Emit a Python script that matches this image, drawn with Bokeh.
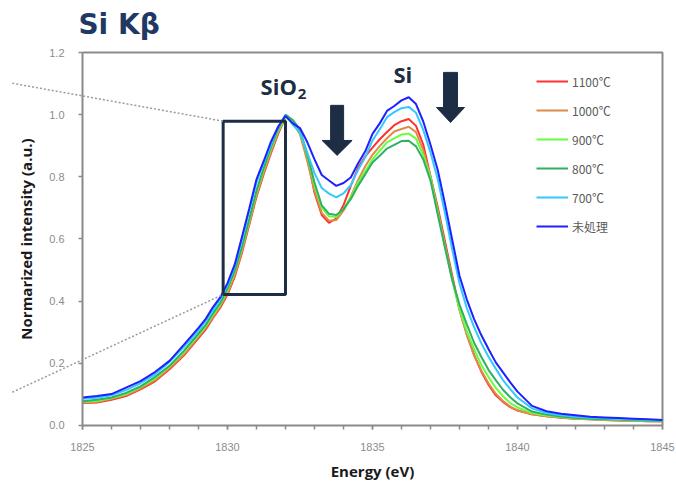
import math

from bokeh.plotting import figure
from bokeh.models import (Range1d, FixedTicker, Legend, LegendItem, Label,
                          Arrow, BoxAnnotation, PrintfTickFormatter)
from bokeh.embed import file_html
from bokeh.resources import INLINE

# Si K-beta emission spectra, normalised to the SiO2 peak
energy = [1825.0, 1825.5, 1826.0, 1826.5, 1827.0, 1827.5, 1828.0, 1828.5,
          1829.0, 1829.25, 1829.5, 1829.75, 1830.0, 1830.25, 1830.5, 1830.75,
          1831.0, 1831.25, 1831.5, 1831.75, 1832.0, 1832.25, 1832.5, 1832.75,
          1833.0, 1833.25, 1833.5, 1833.75, 1834.0, 1834.25, 1834.5, 1834.75,
          1835.0, 1835.25, 1835.5, 1835.75, 1836.0, 1836.25, 1836.5, 1836.75,
          1837.0, 1837.25, 1837.5, 1837.75, 1838.0, 1838.25, 1838.5, 1838.75,
          1839.0, 1839.25, 1839.5, 1839.75, 1840.0, 1840.5, 1841.0, 1841.5,
          1842.0, 1842.5, 1843.0, 1843.5, 1844.0, 1844.5, 1845.0]

int_1100 = [0.072, 0.074, 0.083, 0.095, 0.116, 0.142, 0.181, 0.226,
            0.281, 0.309, 0.346, 0.379, 0.421, 0.479, 0.556, 0.646,
            0.736, 0.809, 0.876, 0.939, 0.992, 0.981, 0.951, 0.861,
            0.749, 0.677, 0.652, 0.666, 0.709, 0.771, 0.829, 0.866,
            0.894, 0.921, 0.944, 0.966, 0.979, 0.986, 0.964, 0.904,
            0.802, 0.702, 0.592, 0.482, 0.374, 0.296, 0.228, 0.174,
            0.131, 0.097, 0.076, 0.059, 0.048, 0.036, 0.030, 0.025,
            0.022, 0.020, 0.018, 0.016, 0.015, 0.014, 0.014]

int_1000 = [0.074, 0.076, 0.086, 0.098, 0.119, 0.146, 0.185, 0.229,
            0.286, 0.314, 0.349, 0.384, 0.426, 0.484, 0.561, 0.651,
            0.741, 0.814, 0.881, 0.944, 0.991, 0.976, 0.936, 0.851,
            0.756, 0.684, 0.659, 0.661, 0.691, 0.736, 0.789, 0.834,
            0.871, 0.899, 0.924, 0.946, 0.954, 0.961, 0.944, 0.886,
            0.801, 0.691, 0.581, 0.474, 0.371, 0.291, 0.226, 0.177,
            0.136, 0.102, 0.079, 0.061, 0.049, 0.036, 0.030, 0.026,
            0.022, 0.020, 0.018, 0.016, 0.015, 0.014, 0.013]

int_900 = [0.076, 0.079, 0.088, 0.101, 0.124, 0.151, 0.190, 0.236,
           0.291, 0.319, 0.356, 0.389, 0.436, 0.494, 0.571, 0.659,
           0.751, 0.824, 0.891, 0.949, 0.993, 0.979, 0.946, 0.869,
           0.772, 0.701, 0.673, 0.671, 0.697, 0.733, 0.781, 0.818,
           0.856, 0.884, 0.911, 0.924, 0.936, 0.939, 0.923, 0.869,
           0.798, 0.686, 0.574, 0.466, 0.376, 0.304, 0.246, 0.195,
           0.156, 0.121, 0.094, 0.072, 0.058, 0.040, 0.032, 0.027,
           0.023, 0.021, 0.019, 0.018, 0.016, 0.015, 0.014]

int_800 = [0.078, 0.083, 0.090, 0.105, 0.126, 0.156, 0.192, 0.241,
           0.296, 0.324, 0.361, 0.394, 0.441, 0.498, 0.576, 0.664,
           0.756, 0.829, 0.896, 0.954, 1.000, 0.983, 0.951, 0.873,
           0.782, 0.708, 0.681, 0.677, 0.696, 0.728, 0.771, 0.808,
           0.846, 0.868, 0.891, 0.903, 0.915, 0.916, 0.898, 0.856,
           0.788, 0.679, 0.572, 0.468, 0.389, 0.326, 0.267, 0.221,
           0.179, 0.146, 0.115, 0.091, 0.071, 0.045, 0.035, 0.029,
           0.025, 0.022, 0.020, 0.019, 0.017, 0.016, 0.015]

int_700 = [0.086, 0.089, 0.097, 0.114, 0.136, 0.164, 0.204, 0.253,
           0.306, 0.336, 0.371, 0.406, 0.451, 0.513, 0.596, 0.690,
           0.781, 0.846, 0.904, 0.961, 0.998, 0.968, 0.942, 0.878,
           0.812, 0.764, 0.746, 0.734, 0.747, 0.773, 0.822, 0.863,
           0.917, 0.953, 0.992, 1.008, 1.021, 1.025, 1.006, 0.951,
           0.878, 0.792, 0.683, 0.566, 0.457, 0.378, 0.317, 0.265,
           0.221, 0.183, 0.146, 0.117, 0.090, 0.055, 0.040, 0.033,
           0.028, 0.025, 0.023, 0.021, 0.019, 0.018, 0.017]

int_untreated = [0.090, 0.095, 0.101, 0.122, 0.143, 0.172, 0.208, 0.260,
                 0.314, 0.343, 0.381, 0.412, 0.458, 0.518, 0.607, 0.698,
                 0.792, 0.851, 0.913, 0.962, 0.996, 0.972, 0.957, 0.912,
                 0.856, 0.806, 0.788, 0.771, 0.780, 0.798, 0.843, 0.882,
                 0.938, 0.972, 1.012, 1.028, 1.046, 1.056, 1.034, 0.978,
                 0.903, 0.822, 0.713, 0.597, 0.482, 0.406, 0.343, 0.291,
                 0.246, 0.203, 0.171, 0.139, 0.109, 0.063, 0.046, 0.038,
                 0.033, 0.028, 0.026, 0.024, 0.022, 0.020, 0.018]

series_labels = ["1100℃", "1000℃", "900℃", "800℃", "700℃", "未処理"]
series_values = [int_1100, int_1000, int_900, int_800, int_700, int_untreated]
series_colors = ["#ff3030", "#e08a48", "#66ff40", "#30b060", "#33c8ff", "#2020ff"]

x_ticks = [1825, 1830, 1835, 1840, 1845]
y_ticks = [0.0, 0.2, 0.4, 0.6, 0.8, 1.0, 1.2]

X_MIN, X_MAX = 1825, 1845
Y_MIN, Y_MAX = 0.0, 1.2

NAVY = "#1c2d44"
AXIS_GREY = "#8a8a8a"

# The drawing area covers the whole canvas so the zoom guide lines, the
# heading and the axis titles can sit in the margins; the axes themselves
# are pinned to the data box.
PX_PER_EV = 29.0
PX_PER_UNIT = 310.8
x_lo = X_MIN - 82 / PX_PER_EV
x_hi = X_MAX + 14 / PX_PER_EV
y_lo = Y_MIN - 64 / PX_PER_UNIT
y_hi = Y_MAX + 52 / PX_PER_UNIT

p = figure(width=676, height=489, output_backend="svg", toolbar_location=None,
           x_range=Range1d(x_lo, x_hi), y_range=Range1d(y_lo, y_hi),
           min_border=0,
           background_fill_color="white", border_fill_color="white")

p.xgrid.visible = False
p.ygrid.visible = False
p.outline_line_color = None

# axes
p.xaxis.ticker = FixedTicker(ticks=x_ticks, minor_ticks=list(range(1825, 1846)))
p.xaxis.bounds = (X_MIN, X_MAX)
p.xaxis.fixed_location = Y_MIN
p.yaxis.ticker = FixedTicker(ticks=y_ticks, minor_ticks=[])
p.yaxis.bounds = (Y_MIN, Y_MAX)
p.yaxis.fixed_location = X_MIN
p.yaxis.formatter = PrintfTickFormatter(format="%.1f")
for ax in (p.xaxis, p.yaxis):
    ax.axis_line_color = AXIS_GREY
    ax.axis_line_width = 2
    ax.major_tick_line_color = AXIS_GREY
    ax.minor_tick_line_color = AXIS_GREY
    ax.major_tick_line_width = 1.5
    ax.minor_tick_line_width = 1.5
    ax.major_tick_in = 0
    ax.major_tick_out = 4
    ax.minor_tick_in = 0
    ax.minor_tick_out = 4
    ax.major_label_text_color = "#8c8c8c"
    ax.major_label_text_font = "Liberation Sans"
    ax.major_label_text_font_size = "11px"
p.xaxis.major_label_standoff = 14
p.yaxis.major_label_standoff = 14

# axis titles
title_style = dict(text_font="Open Sans", text_font_style="bold",
                   text_font_size="15px", text_color="#1a1a1a",
                   text_align="center", text_baseline="middle")
p.add_layout(Label(x=(X_MIN + X_MAX) / 2, y=Y_MIN - 46 / PX_PER_UNIT,
                   text="Energy (eV)", **title_style))
p.add_layout(Label(x=X_MIN - 57 / PX_PER_EV, y=(Y_MIN + Y_MAX) / 2,
                   angle=math.pi / 2, text="Normarized intensity (a.u.)",
                   **title_style))

# top and right edges of the data box
p.line([X_MIN, X_MAX, X_MAX], [Y_MAX, Y_MAX, Y_MIN],
       line_color=AXIS_GREY, line_width=2)

# spectra
items = []
for label, vals, color in zip(series_labels, series_values, series_colors):
    r = p.line(energy, vals, line_color=color, line_width=2)
    items.append(LegendItem(label=label, renderers=[r]))

legend = Legend(items=items, location=(536, 253), padding=0, margin=0,
                spacing=9, glyph_width=32, glyph_height=20, label_height=20,
                label_standoff=4, label_text_font="Noto Sans CJK JP",
                label_text_font_size="12px", label_text_color="#595959",
                border_line_alpha=0, background_fill_alpha=0)
p.add_layout(legend)

# magnified-region marker with guide lines to the left margin
p.add_layout(BoxAnnotation(left=1829.85, right=1832.0, bottom=0.4215, top=0.979,
                           fill_alpha=0, line_color=NAVY, line_alpha=1.0,
                           line_width=3))
for y0, y1 in ((1.101, 0.979), (0.107, 0.4215)):
    p.add_layout(Arrow(x_start=1822.58, y_start=y0, x_end=1829.85, y_end=y1,
                       start=None, end=None, line_color="#9a9aa6",
                       line_width=1.5, line_dash="2 2"))

# block arrows marking the changes
def down_arrow(cx, top, neck, tip, shaft_hw, head_hw):
    xs = [cx - shaft_hw, cx + shaft_hw, cx + shaft_hw, cx + head_hw, cx,
          cx - head_hw, cx - shaft_hw]
    ys = [top, top, neck, neck, tip, neck, neck]
    return xs, ys

a1 = down_arrow(1833.78, 1.03, 0.917, 0.869, 0.224, 0.517)
a2 = down_arrow(1837.69, 1.136, 1.023, 0.975, 0.24, 0.483)
p.patches([a1[0], a2[0]], [a1[1], a2[1]], fill_color=NAVY, line_color=NAVY)

# peak labels
for txt, x, y, size in (("SiO", 1831.14, 1.091, "22px"),
                        ("2", 1832.42, 1.065, "15px"),
                        ("Si", 1835.72, 1.132, "22px")):
    p.add_layout(Label(x=x, y=y, text=txt, text_font="Open Sans",
                       text_font_style="bold",
                       text_font_size=size, text_color=NAVY,
                       text_baseline="alphabetic", text_align="left"))

# heading
p.add_layout(Label(x=1824.86, y=1.290, text="Si Kβ", text_font="DejaVu Sans",
                   text_font_style="bold", text_font_size="28px",
                   text_color="#1f3864", text_baseline="alphabetic",
                   text_align="left"))

open("out.html", "w").write(file_html(p, INLINE))
